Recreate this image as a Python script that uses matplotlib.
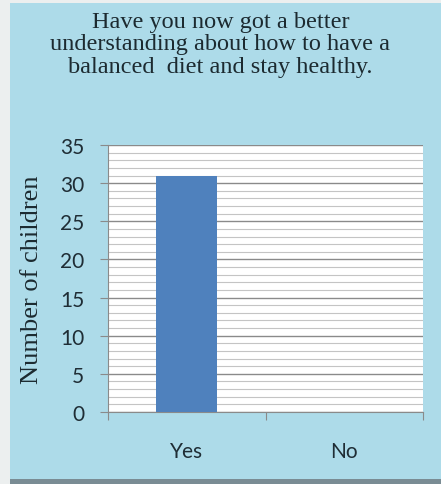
import matplotlib
matplotlib.use("Agg")
import matplotlib.pyplot as plt
from matplotlib.patches import Rectangle
from matplotlib.ticker import MultipleLocator
import numpy as np

categories = ["Yes", "No"]
children = [31, 0]
title_text = "Have you now got a better\nunderstanding about how to have a\nbalanced  diet and stay healthy."

fig = plt.figure(figsize=(4.41, 4.85), dpi=100)
fig.patch.set_facecolor("#ecefef")
# light blue panel behind everything
fig.patches.append(Rectangle((10 / 441, 5 / 485), 431 / 441, 476 / 485,
                             transform=fig.transFigure, facecolor="#addbe9",
                             edgecolor="none", zorder=-10))
fig.patches.append(Rectangle((10 / 441, 0), 431 / 441, 5 / 485,
                             transform=fig.transFigure, facecolor="#7a8c94",
                             edgecolor="none", zorder=-10))

ax = fig.add_axes([108 / 441, 72 / 485, 315 / 441, 267 / 485])
ax.set_facecolor("white")

x = np.arange(len(categories))
ax.bar(x, children, width=0.39, color="#4f81bd", zorder=3)

ax.set_xlim(-0.5, 1.5)
ax.set_ylim(0, 35)
ax.yaxis.set_major_locator(MultipleLocator(5))
ax.yaxis.set_minor_locator(MultipleLocator(1))
ax.grid(which="major", axis="y", color="#8a8a8a", lw=1.0, zorder=1)
ax.grid(which="minor", axis="y", color="#c4c4c4", lw=0.8, zorder=1)

ax.set_xticks([-0.5, 0.5, 1.5])
ax.set_xticklabels([])
ax.set_xticks(x, minor=True)
ax.set_xticklabels(categories, minor=True)
ax.tick_params(axis="x", which="minor", length=0, pad=21,
               labelsize=15, labelcolor="#1f2d35")
ax.tick_params(axis="x", which="major", length=6, color="#8a8a8a")
ax.tick_params(axis="y", which="major", length=6, color="#8a8a8a",
               labelsize=15, labelcolor="#1f2d35", pad=11)
ax.tick_params(axis="y", which="minor", length=0)
for lab in ax.get_xticklabels(minor=True) + ax.get_yticklabels():
    lab.set_family("Lato")

for s in ["top", "right"]:
    ax.spines[s].set_visible(False)
for s in ["left", "bottom"]:
    ax.spines[s].set_color("#8a8a8a")

fig.text(32 / 441, 1 - 280 / 485, "Number of children", rotation=90,
         ha="center", va="center", family="Liberation Serif", fontsize=19,
         color="#1c2a30")

fig.text(0.5, 0.975, title_text, ha="center", va="top",
         family="Liberation Serif", fontsize=17.5, color="#1c2a30",
         linespacing=1.08)

fig.savefig("out.png", dpi=100, facecolor=fig.get_facecolor())
